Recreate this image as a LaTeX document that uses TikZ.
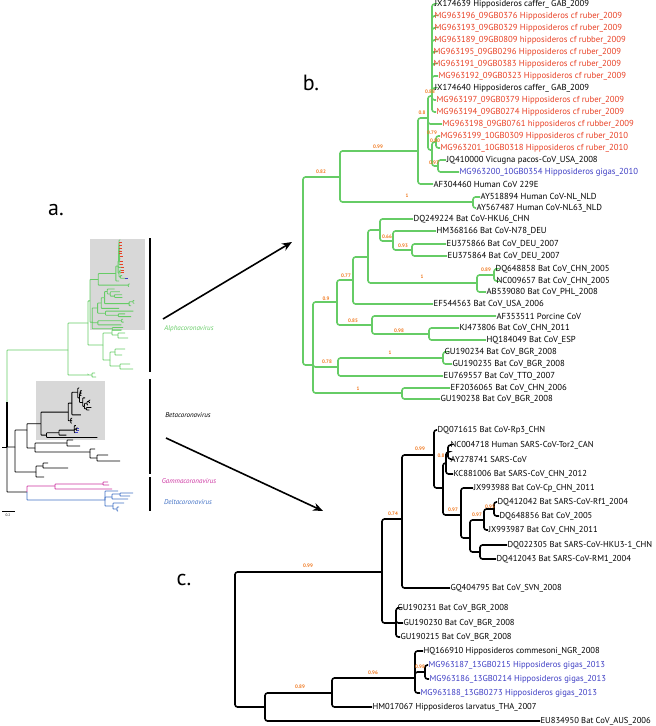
\documentclass[tikz,border=0pt]{standalone}
\usepackage{fontspec}
\setmainfont{PT Sans}
\usepackage{tikz}
\usetikzlibrary{arrows.meta}
\definecolor{alphagreen}{RGB}{102,204,102}
\definecolor{ruberred}{RGB}{232,64,36}
\definecolor{gigasblue}{RGB}{62,62,196}
\definecolor{bootorange}{RGB}{240,120,30}
\definecolor{gammapink}{RGB}{204,51,160}
\definecolor{deltablue}{RGB}{64,112,196}
\definecolor{boxgray}{RGB}{216,216,216}
\tikzstyle{leafb} = [anchor=west, inner sep=0.4pt, font=\fontsize{8.7}{9}\selectfont]
\tikzstyle{leafc} = [anchor=west, inner sep=0.4pt, font=\fontsize{8.6}{9}\selectfont]
\tikzstyle{ruber} = [text=ruberred]
\tikzstyle{gigas} = [text=gigasblue]
\tikzstyle{boot} = [inner sep=0pt, text=bootorange, font=\fontsize{5}{5}\selectfont\bfseries]
\tikzstyle{bbranch} = [draw=alphagreen, line width=1.6pt, rounded corners=2.5pt]
\tikzstyle{cbranch} = [draw=black, line width=1.6pt, rounded corners=2.5pt]
\tikzstyle{abranch} = [line width=0.85pt, rounded corners=0.6pt]
\tikzstyle{arrow} = [line width=1.6pt, -{Stealth[length=10pt,width=8pt]}]
\tikzstyle{genus} = [inner sep=0pt, font=\fontsize{7}{7}\selectfont\itshape]
\tikzstyle{panel} = [inner sep=0pt, font=\fontsize{22}{22}\selectfont]

% alphacoronavirus subtree (panel b), tips are label starts
\newcommand{\btree}{%
  \coordinate (bR) at (303,271);   \coordinate (b82) at (340,177);
  \coordinate (bNL) at (473,202);  \coordinate (b99) at (418,151);
  \coordinate (bB) at (428,118);   \coordinate (bC) at (432,96);
  \coordinate (bE) at (432,150);   \coordinate (bF) at (436,142);
  \coordinate (bG) at (438,166);   \coordinate (bS) at (313,365);
  \coordinate (bW) at (337,302);   \coordinate (bP) at (353,280);
  \coordinate (bQ) at (368,257);   \coordinate (bRr) at (380,230);
  \coordinate (bS66) at (393,241); \coordinate (bT) at (412,250);
  \coordinate (bU) at (477,283);   \coordinate (bV) at (494,275);
  \coordinate (bX) at (372,325);   \coordinate (bY) at (429,334);
  \coordinate (b78) at (338,367);  \coordinate (bZ) at (443,358);
  \coordinate (bLow) at (402,393);
  \foreach \x/\y [count=\i] in {434/4,434/16,434/28,434/40,433/52,433/64,438/76,434/88,
      436/100,436/112,442/124,440/136,440/148,446/160,459/172,433/184,480/197,476/208,
      413/219,436/231,446/244,447/256,495/269,496/281,486/292,433/304,496/316,459/328,
      486/340,444/352,452/364,443/376,450/388,440/399}
    \coordinate (bt\i) at (\x,\y);
  \foreach \p/\c in {bR/b82,bR/bS,b82/b99,b82/bNL,bNL/bt17,bNL/bt18,b99/bB,b99/bt16,
      bB/bC,bB/bt11,bB/bE,bC/bt1,bC/bt2,bC/bt3,bC/bt4,bC/bt5,bC/bt6,bC/bt7,bC/bt8,bC/bt9,
      bC/bt10,bE/bF,bE/bG,bF/bt12,bF/bt13,bG/bt14,bG/bt15,bS/bW,bS/b78,bS/bLow,bW/bP,
      bW/bX,bP/bQ,bP/bt26,bQ/bRr,bQ/bU,bRr/bt19,bRr/bS66,bS66/bt20,bS66/bT,bT/bt21,
      bT/bt22,bU/bV,bU/bt25,bV/bt23,bV/bt24,bX/bt27,bX/bY,bY/bt28,bY/bt29,b78/bZ,
      b78/bt32,bZ/bt30,bZ/bt31,bLow/bt33,bLow/bt34}
    \draw[bbranch] (\p) |- (\c);
}
% betacoronavirus subtree (panel c)
\newcommand{\ctree}{%
  \coordinate (cR) at (235,640);   \coordinate (cN1) at (265,707);
  \coordinate (c89) at (332,693);  \coordinate (c96) at (415,678);
  \coordinate (c9x) at (425,672);  \coordinate (c99) at (382,572);
  \coordinate (cGU) at (396,623);  \coordinate (c74) at (402,519);
  \coordinate (c99b) at (434,455); \coordinate (cN7) at (443,488);
  \coordinate (cN8) at (446,463);  \coordinate (cN8a) at (448,452);
  \coordinate (cN9) at (461,515);  \coordinate (cN10) at (470,538);
  \coordinate (cN11) at (484,520); \coordinate (cN12) at (494,509);
  \coordinate (cN13) at (480,552);
  \foreach \x/\y [count=\i] in {437/430,450/445,450/459,453/474,473/488,497/502,499/516,
      488/530,507/545,496/559,450/588,397/608,403/623,400/637,423/651,428/665,429/679,
      420/693,372/707,540/721}
    \coordinate (ct\i) at (\x,\y);
  \foreach \p/\c in {cR/c99,cR/cN1,cN1/c89,cN1/ct20,c89/c96,c89/ct19,c96/ct15,c96/c9x,
      c96/ct18,c9x/ct16,c9x/ct17,c99/c74,c99/cGU,cGU/ct12,cGU/ct13,cGU/ct14,c74/c99b,
      c74/ct11,c99b/ct1,c99b/cN7,cN7/cN8,cN7/cN9,cN8/cN8a,cN8/ct4,cN8a/ct2,cN8a/ct3,
      cN9/ct5,cN9/cN10,cN10/cN11,cN10/cN13,cN11/cN12,cN11/ct8,cN12/ct6,cN12/ct7,
      cN13/ct9,cN13/ct10}
    \draw[cbranch] (\p) |- (\c);
}

\begin{document}
\begin{tikzpicture}[x=1pt, y=-1pt]
\useasboundingbox (0,0) rectangle (656,726);

% a. whole tree
\fill[boxgray] (90,239) rectangle (145,330);
\fill[boxgray] (36,381) rectangle (105,440);
\begin{scope}[shift={(21.8,239.1)}, xscale=0.225, yscale=0.228,
    bbranch/.style={abranch, draw=alphagreen}]
  \btree
  \foreach \t in {bt2,bt3,bt4,bt5,bt6,bt7,bt9,bt10,bt11,bt12,bt13}
    \draw[ruberred, line width=0.9pt] (\t) -- ++(12,0);
  \draw[gigasblue, line width=0.9pt] (bt15) -- ++(12,0);
\end{scope}
\begin{scope}[shift={(-2.475,314.9)}, xscale=0.185, yscale=0.17,
    cbranch/.style={abranch, draw=black}]
  \ctree
  \foreach \t in {ct16,ct17,ct18}
    \draw[gigasblue, line width=0.9pt] (\t) -- ++(14,0);
\end{scope}

\coordinate (aTop) at (7,402);  \coordinate (aRoot) at (7,447);
\coordinate (aStub) at (2,447);
\coordinate (a1) at (68,350);   \coordinate (a2) at (88,323);
\coordinate (a4) at (103,345);  \coordinate (a5) at (112,333);
\coordinate (a5a) at (118,335); \coordinate (a6) at (110,360);
\coordinate (a7) at (115,352);  \coordinate (a8) at (120,366);
\coordinate (a9) at (88,375);   \coordinate (a9a) at (92,375);
\foreach \x/\y [count=\i] in {122/330,125/333,128/338,125/349,122/355,130/364,133/369,
    95/373,96/377}
  \coordinate (at\i) at (\x,\y);
\foreach \p/\c in {aTop/a1,a1/a2,a1/a9,a2/bR,a2/a4,a4/a5,a4/a6,a5/at1,a5/a5a,a5a/at2,
    a5a/at3,a6/a7,a6/a8,a7/at4,a7/at5,a8/at6,a8/at7,a9/a9a,a9a/at8,a9a/at9}
  \draw[abranch, alphagreen] (\p) |- (\c);

\coordinate (k1) at (15,447);   \coordinate (k2) at (27,430);
\coordinate (k3) at (35,448);   \coordinate (k3a) at (67,443);
\coordinate (k3b) at (90,452);  \coordinate (k3c) at (97,458);
\coordinate (k6) at (36,472);   \coordinate (k6a) at (43,466);
\foreach \x/\y [count=\i] in {73/440,80/446,95/449,108/455,120/461,48/463,68/468,44/477}
  \coordinate (kt\i) at (\x,\y);
\draw[line width=1.4pt] (aTop) -- (aRoot);
\draw[abranch] (aStub) -- (aRoot);
\foreach \p/\c in {aRoot/k1,k1/k2,k1/k6,k2/cR,k2/k3,k3/k3a,k3/k3b,k3a/kt1,k3a/kt2,
    k3b/kt3,k3b/k3c,k3c/kt4,k3c/kt5,k6/k6a,k6/kt8,k6a/kt6,k6a/kt7}
  \draw[abranch] (\p) |- (\c);

\coordinate (gd) at (27,492);   \coordinate (g1) at (55,486);
\coordinate (g2) at (103,484);  \coordinate (d1) at (105,500);
\coordinate (d2) at (112,497);  \coordinate (d2a) at (120,494);
\coordinate (d3) at (113,506);  \coordinate (d3a) at (117,509);
\foreach \x/\y [count=\i] in {108/482,109/485,112/489}
  \coordinate (gt\i) at (\x,\y);
\foreach \x/\y [count=\i] in {118/491,133/493,130/496,128/499,124/503,119/507,118/511}
  \coordinate (dt\i) at (\x,\y);
\draw[abranch] (aRoot) |- (gd);
\foreach \p/\c in {gd/g1,g1/g2,g1/gt3,g2/gt1,g2/gt2}
  \draw[abranch, gammapink] (\p) |- (\c);
\foreach \p/\c in {gd/d1,d1/dt1,d1/d2,d1/d3,d2/d2a,d2/dt4,d2a/dt2,d2a/dt3,d3/dt5,
    d3/d3a,d3a/dt6,d3a/dt7}
  \draw[abranch, deltablue] (\p) |- (\c);

% genus bars and names
\draw[line width=1.2pt] (150,238) -- (150,372);
\draw[line width=1.2pt] (150,379) -- (150,474);
\draw[line width=1.2pt] (150,477) -- (150,511);
\node[genus, text=alphagreen] (alpha) at (189,329) {Alphacoronavirus};
\node[genus] (beta) at (188,415) {Betacoronavirus};
\node[genus, text=gammapink] (gamma) at (189,481) {Gammacoronavirus};
\node[genus, text=deltablue] (delta) at (188,502) {Deltacoronavirus};
\coordinate (sbl) at (2,511); \coordinate (sbr) at (15,511);
\draw[line width=0.6pt] (sbl) -- (sbr);
\node[inner sep=0pt, font=\fontsize{3.5}{4}\selectfont] (sbt) at (8,515) {0.2};

% arrows to the zoomed subtrees
\coordinate (arrAs) at (163,319); \coordinate (arrAe) at (292,242);
\coordinate (arrBs) at (166,438); \coordinate (arrBe) at (323,511);
\draw[arrow] (arrAs) -- (arrAe);
\draw[arrow] (arrBs) -- (arrBe);

\node[panel] (pa) at (56,210) {a.};
\node[panel] (pb) at (311,83) {b.};
\node[panel] (pc) at (184,580) {c.};

% b. alphacoronavirus
\btree
\node[leafb] (bl1) at (bt1) {JX174639 Hipposideros caffer\_ GAB\_2009};
\node[leafb, ruber] (bl2) at (bt2) {MG963196\_09GB0376 Hipposideros cf ruber\_2009};
\node[leafb, ruber] (bl3) at (bt3) {MG963193\_09GB0329 Hipposideros cf ruber\_2009};
\node[leafb, ruber] (bl4) at (bt4) {MG963189\_09GB0809 hipposideros cf rubber\_2009};
\node[leafb, ruber] (bl5) at (bt5) {MG963195\_09GB0296 Hipposideros cf ruber\_2009};
\node[leafb, ruber] (bl6) at (bt6) {MG963191\_09GB0383 Hipposideros cf ruber\_2009};
\node[leafb, ruber] (bl7) at (bt7) {MG963192\_09GB0323 Hipposideros cf ruber\_2009};
\node[leafb] (bl8) at (bt8) {JX174640 Hipposideros caffer\_ GAB\_2009};
\node[leafb, ruber] (bl9) at (bt9) {MG963197\_09GB0379 Hipposideros cf ruber\_2009};
\node[leafb, ruber] (bl10) at (bt10) {MG963194\_09GB0274 Hipposideros cf ruber\_2009};
\node[leafb, ruber] (bl11) at (bt11) {MG963198\_09GB0761 hipposideros cf rubber\_2009};
\node[leafb, ruber] (bl12) at (bt12) {MG963199\_10GB0309 Hipposideros cf ruber\_2010};
\node[leafb, ruber] (bl13) at (bt13) {MG963201\_10GB0318 Hipposideros cf ruber\_2010};
\node[leafb] (bl14) at (bt14) {JQ410000 Vicugna pacos-CoV\_USA\_2008};
\node[leafb, gigas] (bl15) at (bt15) {MG963200\_10GB0354 Hipposideros gigas\_2010};
\node[leafb] (bl16) at (bt16) {AF304460 Human CoV 229E};
\node[leafb] (bl17) at (bt17) {AY518894 Human CoV-NL\_NLD};
\node[leafb] (bl18) at (bt18) {AY567487 Human CoV-NL63\_NLD};
\node[leafb] (bl19) at (bt19) {DQ249224 Bat CoV-HKU6\_CHN};
\node[leafb] (bl20) at (bt20) {HM368166 Bat CoV-N78\_DEU};
\node[leafb] (bl21) at (bt21) {EU375866 Bat CoV\_DEU\_2007};
\node[leafb] (bl22) at (bt22) {EU375864 Bat CoV\_DEU\_2007};
\node[leafb] (bl23) at (bt23) {DQ648858 Bat CoV\_CHN\_2005};
\node[leafb] (bl24) at (bt24) {NC009657 Bat CoV\_CHN\_2005};
\node[leafb] (bl25) at (bt25) {AB539080 Bat CoV\_PHL\_2008};
\node[leafb] (bl26) at (bt26) {EF544563 Bat CoV\_USA\_2006};
\node[leafb] (bl27) at (bt27) {AF353511 Porcine CoV};
\node[leafb] (bl28) at (bt28) {KJ473806 Bat CoV\_CHN\_2011};
\node[leafb] (bl29) at (bt29) {HQ184049 Bat CoV\_ESP};
\node[leafb] (bl30) at (bt30) {GU190234 Bat CoV\_BGR\_2008};
\node[leafb] (bl31) at (bt31) {GU190235 Bat CoV\_BGR\_2008};
\node[leafb] (bl32) at (bt32) {EU769557 Bat CoV\_TTO\_2007};
\node[leafb] (bl33) at (bt33) {EF2036065 Bat CoV\_CHN\_2006};
\node[leafb] (bl34) at (bt34) {GU190238 Bat CoV\_BGR\_2008};
\foreach \x/\y/\v [count=\i] in {430/92/0.88,422/113/0.8,432/133/0.79,435/141/0.80,
    434/163/0.97,378/147/0.99,321/172/0.82,407/196/1,387/237/0.66,403/246/0.93,
    346/276/0.77,422/277/1,486/270/0.89,326/299/0.9,353/321/0.85,399/331/0.98,
    327/362/0.78,390/353/1,358/389/1}
  \node[boot] (bv\i) at (\x,\y) {\v};

% c. betacoronavirus
\ctree
\node[leafc] (cl1) at (ct1) {DQ071615 Bat CoV-Rp3\_CHN};
\node[leafc] (cl2) at (ct2) {NC004718 Human SARS-CoV-Tor2\_CAN};
\node[leafc] (cl3) at (ct3) {AY278741 SARS-CoV};
\node[leafc] (cl4) at (ct4) {KC881006 Bat SARS-CoV\_CHN\_2012};
\node[leafc] (cl5) at (ct5) {JX993988 Bat CoV-Cp\_CHN\_2011};
\node[leafc] (cl6) at (ct6) {DQ412042 Bat SARS-CoV-Rf1\_2004};
\node[leafc] (cl7) at (ct7) {DQ648856 Bat CoV\_2005};
\node[leafc] (cl8) at (ct8) {JX993987 Bat CoV\_CHN\_2011};
\node[leafc] (cl9) at (ct9) {DQ022305 Bat SARS-CoV-HKU3-1\_CHN};
\node[leafc] (cl10) at (ct10) {DQ412043 Bat SARS-CoV-RM1\_2004};
\node[leafc] (cl11) at (ct11) {GQ404795 Bat CoV\_SVN\_2008};
\node[leafc] (cl12) at (ct12) {GU190231 Bat CoV\_BGR\_2008};
\node[leafc] (cl13) at (ct13) {GU190230 Bat CoV\_BGR\_2008};
\node[leafc] (cl14) at (ct14) {GU190215 Bat CoV\_BGR\_2008};
\node[leafc] (cl15) at (ct15) {HQ166910 Hipposideros commesoni\_NGR\_2008};
\node[leafc, gigas] (cl16) at (ct16) {MG963187\_13GB0215 Hipposideros gigas\_2013};
\node[leafc, gigas] (cl17) at (ct17) {MG963186\_13GB0214 Hipposideros gigas\_2013};
\node[leafc, gigas] (cl18) at (ct18) {MG963188\_13GB0273 Hipposideros gigas\_2013};
\node[leafc] (cl19) at (ct19) {HM017067 Hipposideros larvatus\_THA\_2007};
\node[leafc] (cl20) at (ct20) {EU834950 Bat CoV\_AUS\_2006};
\foreach \x/\y/\v [count=\i] in {308/566/0.99,393/514/0.74,420/449/0.99,441/456/0.8,
    453/510/0.97,490/507/0.95,477/515/0.97,373/673/0.96,300/687/0.89,420/667/0.98}
  \node[boot] (cv\i) at (\x,\y) {\v};
\end{tikzpicture}
\end{document}
